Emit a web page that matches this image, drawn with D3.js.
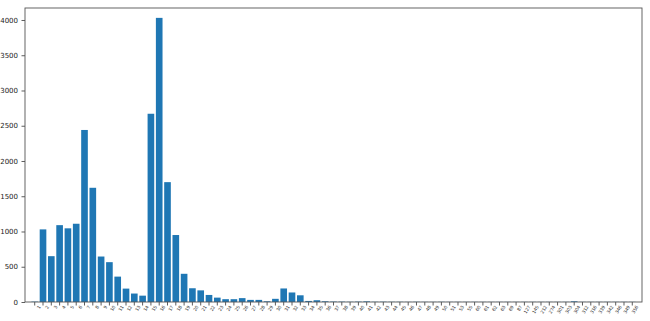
<!DOCTYPE html>
<html>
<head>
<meta charset="utf-8">
<script src="https://cdn.jsdelivr.net/npm/d3@7"></script>
<style>
  body { margin: 0; background: #fff; }
  text { font-family: "DejaVu Sans", sans-serif; }
</style>
</head>
<body>
<svg id="chart"></svg>
<script>
// Category labels (x axis) and counts
const labels = ["1","2","3","4","5","6","7","8","9","10","11","12","13","14","15","16","17","18","19","20",
  "21","22","23","24","25","26","27","28","29","30","31","32","33","34","35","36","37","38","39","40",
  "41","42","43","44","45","46","47","48","49","50","51","53","55","60","61","62","63","69","87","127",
  "145","212","274","301","303","304","312","316","339","342","346","349","356"];
const counts = [5,1030,650,1090,1045,1110,2440,1620,645,565,360,190,120,90,2670,4030,1700,950,400,195,
  165,100,62,40,40,55,30,30,10,45,192,135,95,15,25,10,6,5,3,5,
  9,3,4,3,3,2,3,2,2,3,2,2,2,2,2,2,2,2,2,2,
  2,2,2,2,2,10,2,2,2,2,2,2,2];
const yTicks = [0,500,1000,1500,2000,2500,3000,3500,4000];

const data = labels.map((l, i) => ({ label: l, value: counts[i] }));

const W = 650, H = 321;
const margin = { top: 8, right: 8, bottom: 19, left: 25 };
const width = W - margin.left - margin.right;
const height = H - margin.top - margin.bottom;

const svg = d3.select("#chart").attr("width", W).attr("height", H);
const g = svg.append("g").attr("transform", "translate(" + margin.left + "," + margin.top + ")");

const x = d3.scaleBand()
  .domain(labels)
  .range([0, width])
  .paddingInner(0.2)
  .paddingOuter(0.77);

const y = d3.scaleLinear()
  .domain([0, 4170])
  .range([height, 0]);

// bars
g.selectAll("rect.bar")
  .data(data)
  .enter()
  .append("rect")
  .attr("class", "bar")
  .attr("x", d => x(d.label))
  .attr("y", d => y(d.value))
  .attr("width", x.bandwidth())
  .attr("height", d => height - y(d.value))
  .attr("fill", "#1f77b4");

// y axis
const yAxis = g.append("g")
  .call(d3.axisLeft(y).tickValues(yTicks).tickSize(3.5).tickPadding(3.5).tickFormat(d3.format("d")));
yAxis.select(".domain").remove();
yAxis.selectAll("text").style("font-size", "7px").attr("fill", "#222");
yAxis.selectAll("line").attr("stroke", "#333").attr("stroke-width", 0.8);

// x axis
const xAxis = g.append("g")
  .attr("transform", "translate(0," + height + ")")
  .call(d3.axisBottom(x).tickSize(3.5).tickPadding(2));
xAxis.select(".domain").remove();
xAxis.selectAll("line").attr("stroke", "#333").attr("stroke-width", 0.8);
xAxis.selectAll("text")
  .style("font-size", "4.5px")
  .attr("fill", "#333")
  .attr("text-anchor", "end")
  .attr("dx", "-0.2em")
  .attr("dy", "0.5em")
  .attr("transform", "rotate(-60)");

// frame
g.append("rect")
  .attr("x", 0).attr("y", 0)
  .attr("width", width).attr("height", height)
  .attr("fill", "none")
  .attr("stroke", "#555")
  .attr("stroke-width", 0.9);
</script>
</body>
</html>
